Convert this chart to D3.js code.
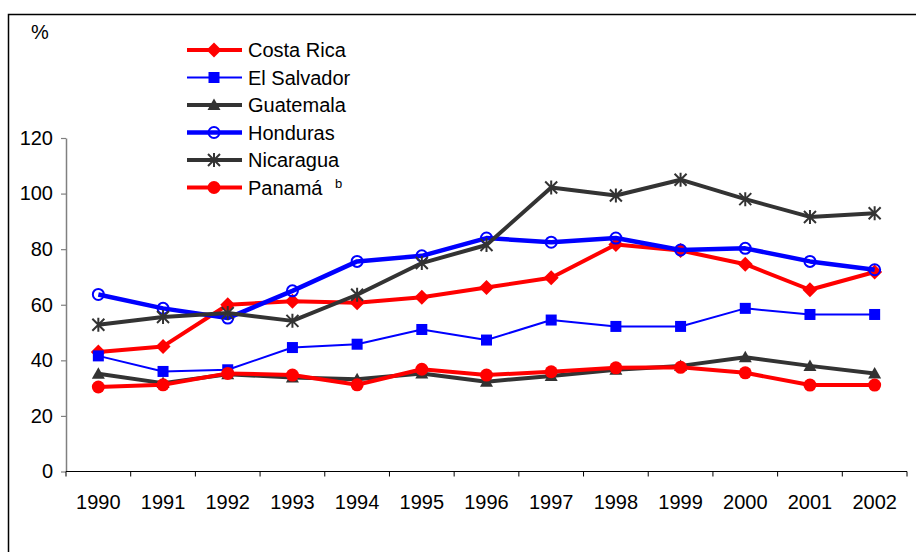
<!DOCTYPE html>
<html>
<head>
<meta charset="utf-8">
<script src="https://cdn.jsdelivr.net/npm/d3@7"></script>
<style>
  html, body { margin: 0; padding: 0; background: #fff; }
  svg { display: block; font-family: "Liberation Sans", Arial, sans-serif; }
</style>
</head>
<body>
<svg id="chart" width="916" height="552"></svg>
<script>
// Years on the x axis
const years = ["1990","1991","1992","1993","1994","1995","1996","1997","1998","1999","2000","2001","2002"];
const yTicks = [0, 20, 40, 60, 80, 100, 120];

// Series values (%)
const costaRica  = [43, 45, 60, 61.3, 60.7, 62.7, 66.2, 69.7, 81.7, 79.5, 74.6, 65.4, 71.8];
const elSalvador = [41.6, 36, 36.6, 44.6, 45.8, 51.1, 47.3, 54.5, 52.2, 52.2, 58.7, 56.5, 56.5];
const guatemala  = [35.2, 31.8, 35, 33.8, 33.2, 35.3, 32.3, 34.4, 36.6, 38, 41.1, 38, 35.3];
const honduras   = [63.7, 58.7, 55.2, 65, 75.6, 77.6, 84, 82.5, 84, 79.7, 80.3, 75.6, 72.6];
const nicaragua  = [52.8, 55.6, 57, 54.2, 63.6, 75, 81.5, 102.2, 99.3, 105, 98, 91.6, 92.9];
const panama     = [30.4, 31.2, 35.3, 34.7, 31.2, 36.8, 34.7, 35.9, 37.3, 37.5, 35.5, 31.1, 31.1];

const seriesNames = ["Costa Rica", "El Salvador", "Guatemala", "Honduras", "Nicaragua", "Panamá"];
const seriesValues = [costaRica, elSalvador, guatemala, honduras, nicaragua, panama];

// Visual style per series
const styles = [
  { color: "#ff0000", width: 4,   marker: "diamond" },
  { color: "#0000ff", width: 2,   marker: "square" },
  { color: "#333333", width: 4,   marker: "triangle" },
  { color: "#0000ff", width: 4.5, marker: "ring" },
  { color: "#333333", width: 4,   marker: "asterisk" },
  { color: "#ff0000", width: 4,   marker: "dot" }
];

const svg = d3.select("#chart");

// Frame (top and left edges)
svg.append("path")
  .attr("d", "M8.5,552 L8.5,14.5 L916,14.5")
  .attr("fill", "none").attr("stroke", "#000").attr("stroke-width", 1.5);

const plotLeft = 66, plotRight = 907, plotTop = 138, plotBottom = 471.5;

const x = d3.scaleBand().domain(years).range([plotLeft, plotRight]).padding(0);
const y = d3.scaleLinear().domain([0, 120]).range([plotBottom, plotTop]);
const cx = yr => x(yr) + x.bandwidth() / 2;

// Y axis
const yAxis = svg.append("g").attr("transform", `translate(${plotLeft},0)`)
  .call(d3.axisLeft(y).tickValues(yTicks).tickSize(5).tickPadding(8).tickSizeOuter(0));
yAxis.select(".domain").attr("stroke", "#808080").attr("stroke-width", 1.5);
yAxis.selectAll(".tick line").attr("stroke", "#808080").attr("stroke-width", 1.2);
yAxis.selectAll(".tick text").attr("font-size", 20).attr("fill", "#000")
  .attr("font-family", "Liberation Sans, Arial, sans-serif");

// X axis with ticks at category boundaries
const xAxis = svg.append("g").attr("transform", `translate(0,${plotBottom})`);
xAxis.append("line").attr("x1", plotLeft).attr("x2", plotRight).attr("y1", 0).attr("y2", 0)
  .attr("stroke", "#000").attr("stroke-width", 1.2);
const boundaries = years.map(d => x(d)).concat([plotRight]);
xAxis.selectAll("line.bt").data(boundaries).enter().append("line")
  .attr("class", "bt")
  .attr("x1", d => d).attr("x2", d => d).attr("y1", 0).attr("y2", 5)
  .attr("stroke", "#000").attr("stroke-width", 1);
xAxis.selectAll("text").data(years).enter().append("text")
  .attr("x", d => cx(d)).attr("y", 37)
  .attr("text-anchor", "middle").attr("font-size", 20).attr("fill", "#000")
  .text(d => d);

// Unit label
svg.append("text").attr("x", 31).attr("y", 39).attr("font-size", 20).text("%");

// Marker drawing
function drawMarker(g, type, color) {
  switch (type) {
    case "diamond":
      g.append("path").attr("d", "M0,-7.5 L7.5,0 L0,7.5 L-7.5,0 Z").attr("fill", color);
      break;
    case "square":
      g.append("rect").attr("x", -5.5).attr("y", -5.5).attr("width", 11).attr("height", 11).attr("fill", color);
      break;
    case "triangle":
      g.append("path").attr("d", "M0,-6.5 L6.5,5 L-6.5,5 Z").attr("fill", color);
      break;
    case "ring":
      g.append("circle").attr("r", 5.5).attr("fill", "none").attr("stroke", color).attr("stroke-width", 2);
      break;
    case "asterisk":
      g.append("path").attr("d", "M-6,-6 L6,6 M-6,6 L6,-6 M0,-7 L0,7")
        .attr("stroke", color).attr("stroke-width", 2).attr("fill", "none");
      break;
    case "dot":
      g.append("circle").attr("r", 6.5).attr("fill", color);
      break;
  }
}

const line = d3.line().x(d => cx(d.year)).y(d => y(d.value));

seriesNames.forEach((name, i) => {
  const st = styles[i];
  const pts = years.map((yr, j) => ({ year: yr, value: seriesValues[i][j] }));
  const g = svg.append("g");
  g.append("path").datum(pts).attr("d", line)
    .attr("fill", "none").attr("stroke", st.color).attr("stroke-width", st.width)
    .attr("stroke-linejoin", "round");
  pts.forEach(p => {
    const m = g.append("g").attr("transform", `translate(${cx(p.year)},${y(p.value)})`);
    drawMarker(m, st.marker, st.color);
  });
});

// Legend
const legend = svg.append("g");
seriesNames.forEach((name, i) => {
  const st = styles[i];
  const ly = 50 + i * 27.5;
  const row = legend.append("g").attr("transform", `translate(0,${ly})`);
  row.append("line").attr("x1", 187).attr("x2", 242).attr("y1", 0).attr("y2", 0)
    .attr("stroke", st.color).attr("stroke-width", st.width);
  const m = row.append("g").attr("transform", "translate(214,0)");
  drawMarker(m, st.marker, st.color);
  row.append("text").attr("x", 248).attr("y", 7).attr("font-size", 20).text(name);
  if (name === "Panamá") {
    row.append("text").attr("x", 335).attr("y", 0).attr("font-size", 13).text("b");
  }
});
</script>
</body>
</html>
